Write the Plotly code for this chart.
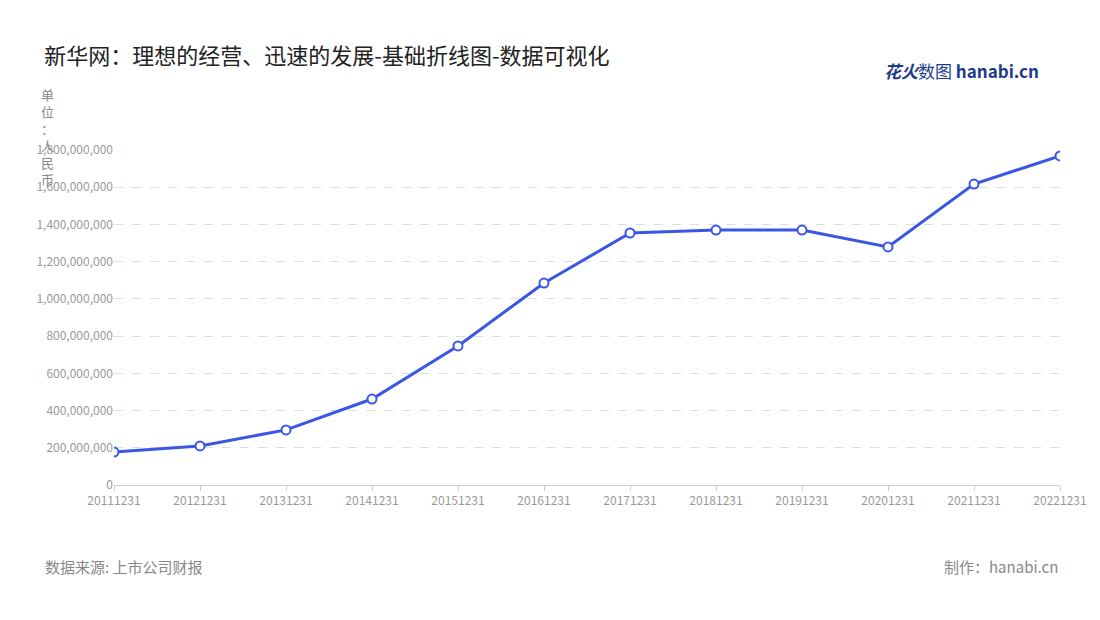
import plotly.graph_objects as go

dates = ["20111231","20121231","20131231","20141231","20151231","20161231",
         "20171231","20181231","20191231","20201231","20211231","20221231"]
values = [177e6, 210e6, 296e6, 462e6, 747e6, 1085e6, 1354e6, 1370e6, 1370e6, 1279e6, 1617e6, 1768e6]
yticks = list(range(0, 1800000001, 200000000))

fig = go.Figure(go.Scatter(
    x=dates, y=values, mode="lines+markers",
    line=dict(color="#3a56e4", width=3),
    marker=dict(size=9, color="white", line=dict(color="#3a56e4", width=2)),
))
fnt = "Noto Sans CJK SC"
fig.update_layout(
    width=1100, height=620, plot_bgcolor="white", paper_bgcolor="white",
    margin=dict(l=106, r=48, t=142, b=143), showlegend=False,
    font=dict(family=fnt, color="#999"),
    title=dict(text="新华网：理想的经营、迅速的发展-基础折线图-数据可视化", x=0.033, y=0.935,
               xanchor="left", font=dict(size=22, color="#222", family=fnt)),
    xaxis=dict(type="category", range=[0, 11], showgrid=False, showline=True, linecolor="#ccc",
               ticks="outside", ticklen=5, tickcolor="#ccc", tickfont=dict(size=12, color="#999")),
    yaxis=dict(range=[0, 1800000000], tickvals=yticks, tickformat=",d", showgrid=True,
               gridcolor="#ddd", griddash="dash", zeroline=False, showline=False,
               tickfont=dict(size=12, color="#999")),
    annotations=[
        dict(text="单<br>位<br>：<br>人<br>民<br>币", xref="paper", yref="paper", x=-0.07, y=1.2,
             xanchor="center", yanchor="top", showarrow=False, font=dict(size=13, color="#888")),
        dict(text="数据来源: 上市公司财报", xref="paper", yref="paper", x=-0.075, y=-0.28,
             xanchor="left", showarrow=False, font=dict(size=15, color="#888")),
        dict(text="制作：hanabi.cn", xref="paper", yref="paper", x=1.0, y=-0.28,
             xanchor="right", showarrow=False, font=dict(size=15, color="#888")),
        dict(text="<b><i>花火</i></b>数图 <b>hanabi.cn</b>", xref="paper", yref="paper", x=0.98, y=1.28,
             xanchor="right", showarrow=False, font=dict(size=17, color="#1d3a8a")),
    ],
)
fig.write_html("out.html")
